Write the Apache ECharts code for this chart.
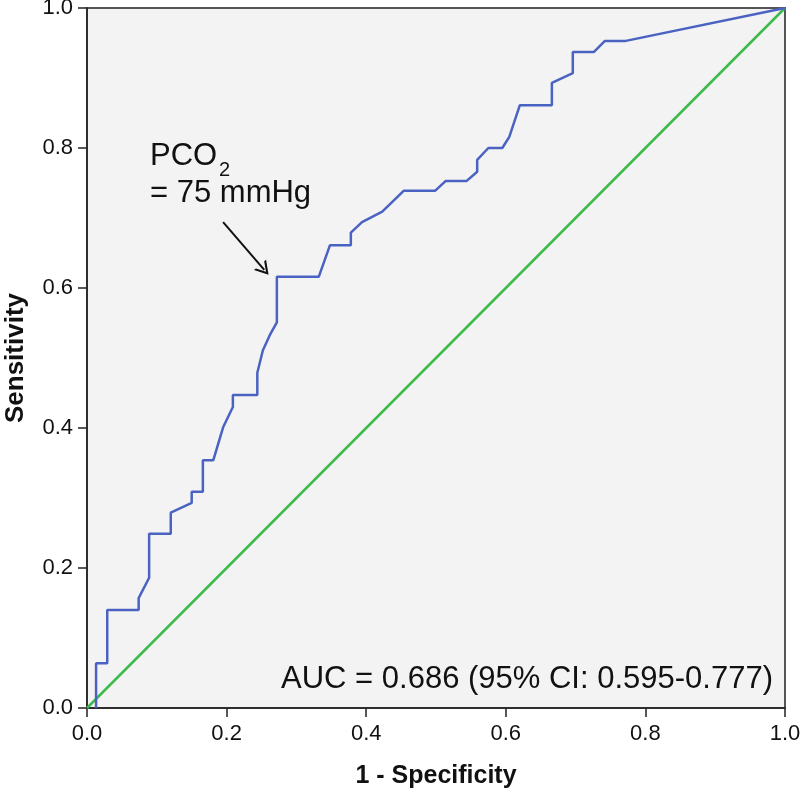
<!DOCTYPE html>
<html>
<head>
<meta charset="utf-8">
<script src="https://cdn.jsdelivr.net/npm/echarts@6/dist/echarts.min.js"></script>
<style>html,body{margin:0;padding:0;background:#fff}#c{width:800px;height:794px}</style>
</head>
<body>
<div id="c"></div>
<script>
// 1 - Specificity (false positive rate) of each curve vertex
const fpr = [0.013, 0.013, 0.029, 0.029, 0.074, 0.074, 0.089, 0.089, 0.120, 0.120,
  0.150, 0.150, 0.166, 0.166, 0.181, 0.195, 0.209, 0.209, 0.244, 0.244,
  0.252, 0.262, 0.272, 0.272, 0.332, 0.348, 0.378, 0.378, 0.394, 0.423,
  0.454, 0.499, 0.514, 0.544, 0.559, 0.559, 0.575, 0.595, 0.605, 0.620,
  0.666, 0.666, 0.696, 0.696, 0.726, 0.742, 0.772, 1.0];
// Sensitivity of each curve vertex
const tpr = [0.000, 0.064, 0.064, 0.140, 0.140, 0.157, 0.186, 0.249, 0.249, 0.279,
  0.293, 0.309, 0.309, 0.354, 0.354, 0.401, 0.430, 0.447, 0.447, 0.479,
  0.511, 0.533, 0.551, 0.616, 0.616, 0.661, 0.661, 0.679, 0.694, 0.709,
  0.739, 0.739, 0.753, 0.753, 0.766, 0.783, 0.800, 0.800, 0.816, 0.861,
  0.861, 0.893, 0.907, 0.937, 0.937, 0.953, 0.953, 1.0];
const refX = [0, 1];
const refY = [0, 1];
const tickLabels = ['0.0', '0.2', '0.4', '0.6', '0.8', '1.0'];
const annotationStart = [0.195, 0.694];
const annotationEnd = [0.254, 0.626];
const aucText = 'AUC = 0.686 (95% CI: 0.595-0.777)';

const FONT = '"Liberation Sans", Arial, Helvetica, sans-serif';
const chart = echarts.init(document.getElementById('c'), null, {renderer: 'canvas'});

const fmt = v => tickLabels[Math.round(v * 5)];

const axisCommon = {
  type: 'value', min: 0, max: 1, interval: 0.2,
  axisLine: {show: true, lineStyle: {color: '#222', width: 1.5}},
  axisTick: {show: true, length: 9, lineStyle: {color: '#222', width: 1.5}},
  splitLine: {show: false},
  axisLabel: {color: '#111', fontSize: 22, fontFamily: FONT, formatter: fmt},
  nameLocation: 'middle',
  nameTextStyle: {color: '#111', fontSize: 25, fontWeight: 'bold', fontFamily: FONT}
};

chart.setOption({
  animation: false,
  backgroundColor: '#ffffff',
  grid: {left: 87, right: 15, top: 8, bottom: 86, show: true,
    outerBoundsMode: 'none', containLabel: false,
    backgroundColor: '#f3f3f3', borderColor: '#555', borderWidth: 2},
  xAxis: Object.assign({}, axisCommon, {
    name: '1 - Specificity', nameGap: 56,
    axisLabel: Object.assign({}, axisCommon.axisLabel, {margin: 15})
  }),
  yAxis: Object.assign({}, axisCommon, {
    name: 'Sensitivity', nameGap: 58,
    nameTextStyle: Object.assign({}, axisCommon.nameTextStyle, {fontSize: 26}),
    axisLabel: Object.assign({}, axisCommon.axisLabel, {margin: 14})
  }),
  series: [
    {
      type: 'line', name: 'Reference', data: refX.map((x, i) => [x, refY[i]]),
      showSymbol: false, lineStyle: {color: '#3dba4a', width: 2.5}, z: 2
    },
    {
      type: 'line', name: 'ROC', data: fpr.map((x, i) => [x, tpr[i]]),
      showSymbol: false, lineStyle: {color: '#4a63c2', width: 2.5}, z: 3,
      markLine: {
        silent: true,
        symbol: ['none', 'path://M5,0 L10,10 L8.4,10 L5,3 L1.6,10 L0,10 Z'],
        symbolSize: [16, 13],
        label: {show: false},
        lineStyle: {color: '#111', width: 2, type: 'solid'},
        data: [[{coord: annotationStart}, {coord: annotationEnd}]]
      }
    }
  ],
  graphic: [
    {type: 'text', left: 150, top: 141, style: {text: 'PCO', fontSize: 31, fontFamily: FONT, fill: '#111'}},
    {type: 'text', left: 219, top: 160, style: {text: '2', fontSize: 20, fontFamily: FONT, fill: '#111'}},
    {type: 'text', left: 150, top: 178, style: {text: '= 75 mmHg', fontSize: 31, fontFamily: FONT, fill: '#111'}},
    {type: 'text', right: 27, top: 664, style: {text: aucText, fontSize: 31, fontFamily: FONT, fill: '#111'}}
  ]
});
</script>
</body>
</html>
